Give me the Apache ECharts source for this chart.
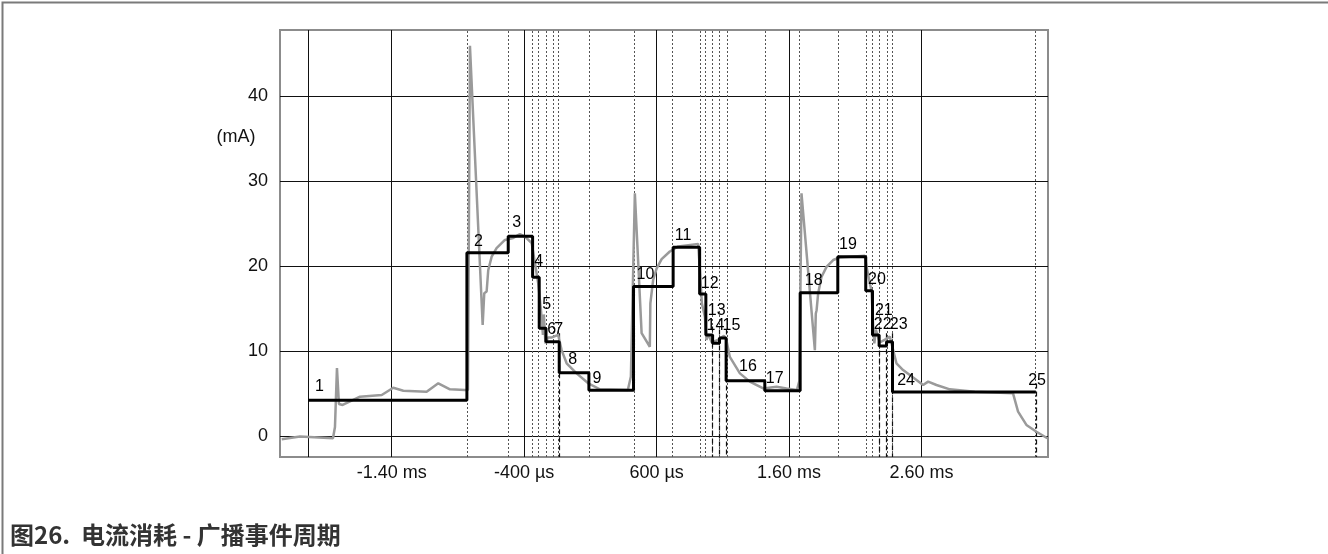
<!DOCTYPE html>
<html>
<head>
<meta charset="utf-8">
<script src="https://cdn.jsdelivr.net/npm/echarts@6/dist/echarts.min.js"></script>
<style>
  html, body { margin: 0; padding: 0; background: #fff; }
  #chart { width: 1328px; height: 554px; }
</style>
</head>
<body>
<div id="chart"></div>
<script>
// time in ms, current in mA
var xTicks = [-1.4, -0.4, 0.6, 1.6, 2.6];
var yTicks = [0, 10, 20, 30, 40];

var stepNames = ['1','2','3','4','5','6','7','8','9','10','11','12','13','14','15','16','17','18','19','20','21','22','23','24','25'];
// start time of each step, the last one is the end of step 24 (marker 25)
var stepStart = [-2.029, -0.832, -0.520, -0.336, -0.286, -0.235, -0.185, -0.135, 0.089, 0.426,
                 0.725, 0.925, 0.972, 1.023, 1.075, 1.125, 1.417, 1.684, 1.968, 2.179,
                 2.230, 2.280, 2.336, 2.381, 3.463];
var stepLevel = [4.2, 21.56, 23.5, 18.67, 12.67, 11.1, 11.1, 7.45, 5.37, 17.6,
                 22.2, 16.7, 11.88, 10.9, 11.53, 6.5, 5.33, 16.86, 21.1, 17.1,
                 11.88, 10.6, 11.1, 5.18];
// markers drawn dashed below the step
var dashedMarks = ['8', '14', '15', '16', '22', '23', '24', '25'];

// where the step numbers sit
var labelTime = [-1.979, -0.779, -0.490, -0.324, -0.263, -0.226, -0.173, -0.067, 0.117, 0.449,
                 0.738, 0.934, 0.987, 0.977, 1.098, 1.223, 1.425, 1.719, 1.978, 2.197,
                 2.248, 2.240, 2.361, 2.416, 3.405];
var labelCurrent = [5.76, 22.86, 25.09, 20.51, 15.41, 12.55, 12.55, 8.94, 6.71, 18.94,
                    23.53, 17.88, 14.76, 12.94, 12.94, 8.15, 6.79, 18.24, 22.47, 18.44,
                    14.74, 13.06, 13.06, 6.51, 6.51];

// measured current (grey trace)
var traceTime = [-2.230, -2.092, -1.843, -1.828, -1.813, -1.798, -1.770, -1.639, -1.475, -1.388,
                 -1.312, -1.136, -1.048, -0.960, -0.847, -0.824, -0.809, -0.713, -0.701, -0.683,
                 -0.671, -0.645, -0.608, -0.545, -0.482, -0.432, -0.394, -0.343, -0.318, -0.294,
                 -0.273, -0.258, -0.251, -0.239, -0.220, -0.190, -0.143, -0.117, -0.079, -0.004,
                 0.084, 0.172, 0.383, 0.406, 0.436, 0.487, 0.549, 0.553, 0.562, 0.574,
                 0.600, 0.638, 0.700, 0.763, 0.914, 0.927, 0.942, 0.965, 0.977, 0.989,
                 1.017, 1.063, 1.108, 1.127, 1.153, 1.229, 1.304, 1.405, 1.506, 1.581,
                 1.659, 1.678, 1.694, 1.795, 1.802, 1.808, 1.820, 1.845, 1.883, 1.933,
                 1.983, 2.172, 2.185, 2.223, 2.235, 2.244, 2.255, 2.285, 2.331, 2.361,
                 2.386, 2.411, 2.461, 2.512, 2.612, 2.650, 2.713, 2.814, 3.002, 3.291,
                 3.329, 3.392, 3.468, 3.550];
var traceCurrent = [-0.39, -0.06, -0.27, 1.06, 8.0, 3.76, 3.65, 4.62, 4.82, 5.68,
                    5.33, 5.21, 6.2, 5.49, 5.41, 5.4, 45.9, 13.06, 16.8, 17.0,
                    19.5, 21.1, 22.1, 23.06, 23.3, 23.76, 23.45, 22.7, 20.3, 18.0,
                    14.8, 11.9, 14.3, 10.9, 11.6, 11.6, 11.9, 10.1, 8.55, 7.37,
                    6.2, 5.5, 5.4, 7.0, 28.55, 12.1, 10.5, 15.6, 15.4, 18.35,
                    19.7, 20.8, 21.7, 22.3, 22.6, 19.5, 15.6, 14.0, 11.3, 12.0,
                    11.0, 11.3, 11.8, 11.3, 9.3, 7.37, 6.4, 5.6, 5.8, 5.6,
                    5.4, 6.5, 28.55, 10.1, 14.4, 14.8, 16.8, 18.7, 19.9, 20.7,
                    21.0, 21.2, 19.9, 17.0, 12.9, 10.9, 12.5, 11.0, 11.4, 11.7,
                    10.1, 8.55, 7.76, 7.18, 6.0, 6.4, 6.0, 5.49, 5.2, 5.02,
                    2.86, 1.3, 0.5, -0.27];

var xMin = -2.243, xMax = 3.555;
var yMin = -2.47, yMax = 47.76;

var chart = echarts.init(document.getElementById('chart'));

var font = '"Liberation Sans", Arial, sans-serif';

function fmtTime(v) {
    if (Math.abs(v) >= 1) return v.toFixed(2) + ' ms';
    return Math.round(v * 1000) + ' µs';
}

var stepData = [];
for (var i = 0; i < stepLevel.length; i++) {
    stepData.push([stepStart[i], stepLevel[i]]);
}
stepData.push([stepStart[stepLevel.length], stepLevel[stepLevel.length - 1]]);

var traceData = traceTime.map(function (t, i) { return [t, traceCurrent[i]]; });
var labelData = labelTime.map(function (t, i) { return { name: stepNames[i], value: [t, labelCurrent[i]] }; });

// vertical marker lines at every step edge
var markers = [];
stepStart.forEach(function (t, i) {
    markers.push({
        xAxis: t,
        lineStyle: i === 0
            ? { type: 'solid', color: '#111', width: 1 }
            : { type: [2, 2], color: '#555', width: 1 }
    });
});
dashedMarks.forEach(function (name) {
    var i = stepNames.indexOf(name);
    var top = Math.max(stepLevel[i - 1], stepLevel[i] || 0) + 1;
    markers.push([
        { coord: [stepStart[i], top], lineStyle: { type: [5, 3], color: '#111', width: 1.2 } },
        { coord: [stepStart[i], yMin] }
    ]);
});

option = {
    animation: false,
    backgroundColor: '#fff',
    textStyle: { fontFamily: font },
    grid: {
        left: 280, top: 30, width: 768, height: 427,
        show: true, borderColor: '#8c8c8c', borderWidth: 2
    },
    xAxis: {
        type: 'value',
        min: xMin,
        max: xMax,
        axisLine: { show: false },
        axisTick: { show: false, customValues: xTicks },
        axisLabel: {
            customValues: xTicks,
            formatter: fmtTime,
            fontSize: 18,
            color: '#111',
            margin: 7
        },
        splitLine: { show: true, lineStyle: { color: '#111', width: 1 } }
    },
    yAxis: {
        type: 'value',
        min: yMin,
        max: yMax,
        axisLine: { show: false },
        axisTick: { show: false, customValues: yTicks },
        axisLabel: {
            customValues: yTicks,
            fontSize: 18,
            color: '#111',
            margin: 12
        },
        splitLine: { show: true, lineStyle: { color: '#111', width: 1 } }
    },
    graphic: [
        {
            type: 'rect', left: 0, top: 0, z: 100,
            shape: { width: 1327, height: 553 },
            style: { fill: 'none', stroke: '#7a7a7a', lineWidth: 2 }
        },
        {
            type: 'text', x: 236, y: 137,
            style: { text: '(mA)', font: '18px ' + font, fill: '#111', textAlign: 'center', textVerticalAlign: 'middle' }
        },
        {
            type: 'text', x: 10, y: 535,
            style: {
                text: '图26.  电流消耗 - 广播事件周期',
                font: 'bold 24px "Noto Sans CJK SC", sans-serif',
                fill: '#333', textVerticalAlign: 'middle'
            }
        }
    ],
    series: [
        {
            name: 'markers',
            type: 'line',
            data: [],
            silent: true,
            markLine: {
                silent: true,
                symbol: 'none',
                label: { show: false },
                data: markers,
                z: 1
            }
        },
        {
            name: 'trace',
            type: 'line',
            data: traceData,
            showSymbol: false,
            z: 3,
            lineStyle: { color: '#9a9a9a', width: 2.5 }
        },
        {
            name: 'steps',
            type: 'line',
            step: 'end',
            data: stepData,
            showSymbol: false,
            z: 4,
            lineStyle: { color: '#000', width: 3 }
        },
        {
            name: 'labels',
            type: 'scatter',
            data: labelData,
            symbolSize: 0,
            z: 5,
            itemStyle: { opacity: 1 },
            label: {
                show: true,
                position: 'right',
                distance: 0,
                formatter: '{b}',
                fontSize: 16,
                color: '#000'
            }
        }
    ]
};

chart.setOption(option);
</script>
</body>
</html>
